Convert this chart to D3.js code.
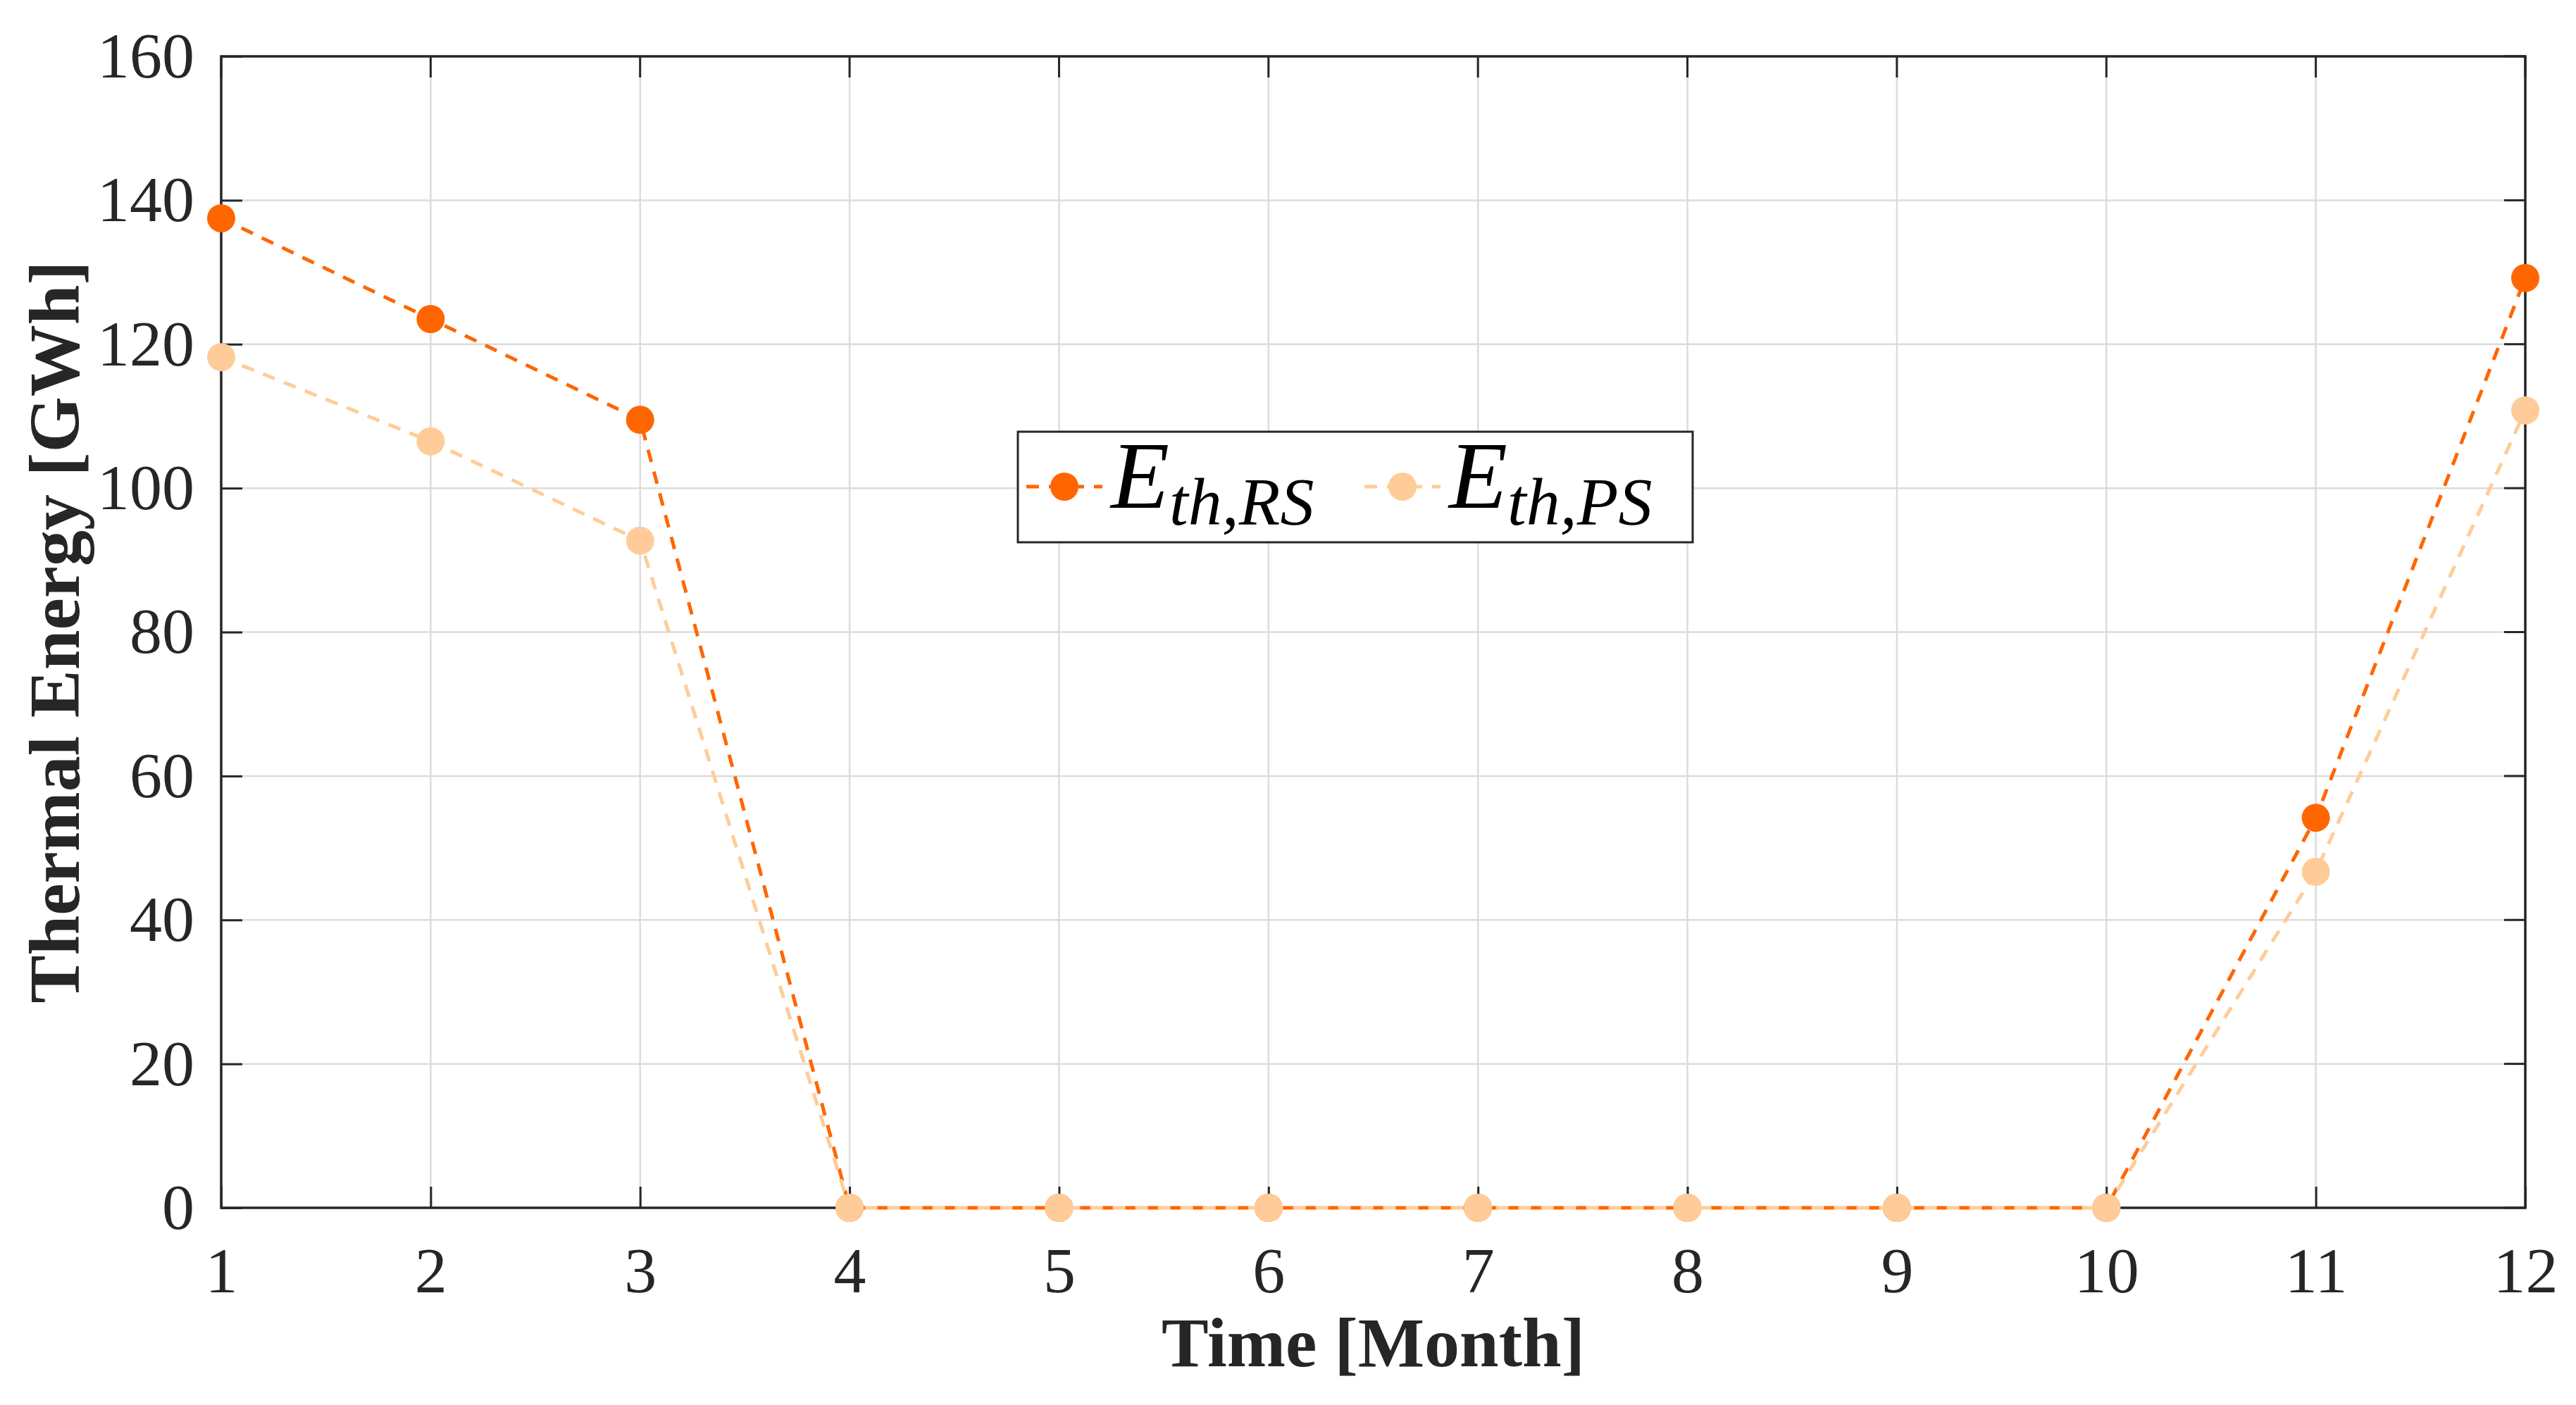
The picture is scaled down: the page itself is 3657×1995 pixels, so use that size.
<!DOCTYPE html>
<html><head><meta charset="utf-8">
<script src="https://cdn.jsdelivr.net/npm/d3@7"></script>
<style>body{margin:0;background:#fff}</style>
</head><body>
<svg id="chart" width="3657" height="1995"></svg>
<script>
// data
const months = [1,2,3,4,5,6,7,8,9,10,11,12];
const rsValues = [137.5,123.5,109.5,0,0,0,0,0,0,0,54.2,129.2];
const psValues = [118.2,106.5,92.7,0,0,0,0,0,0,0,46.7,110.8];
const yTicks = [0,20,40,60,80,100,120,140,160];

const svg = d3.select("#chart");
const m = {l:314, r:3585, t:80, b:1715};
const x = d3.scaleLinear().domain([1,12]).range([m.l,m.r]);
const y = d3.scaleLinear().domain([0,160]).range([m.b,m.t]);
const font = "'Liberation Serif','Times New Roman',serif";

// grid
svg.append("g").selectAll("line").data(months).join("line")
  .attr("x1",d=>x(d)).attr("x2",d=>x(d)).attr("y1",m.t).attr("y2",m.b)
  .attr("stroke","#dcdcdc").attr("stroke-width",2.5);
svg.append("g").selectAll("line").data(yTicks).join("line")
  .attr("y1",d=>y(d)).attr("y2",d=>y(d)).attr("x1",m.l).attr("x2",m.r)
  .attr("stroke","#dcdcdc").attr("stroke-width",2.5);

// axes
const xAxis = d3.axisBottom(x).tickValues(months).tickSize(-30).tickPadding(55);
const yAxis = d3.axisLeft(y).tickValues(yTicks).tickSize(-30).tickPadding(38);
[svg.append("g").attr("transform",`translate(0,${m.b})`).call(xAxis),
 svg.append("g").attr("transform",`translate(${m.l},0)`).call(yAxis)].forEach(g=>{
  g.select(".domain").remove();
  g.selectAll("line").attr("stroke","#262626").attr("stroke-width",3);
  g.selectAll("text").attr("font-family",font).attr("font-size",92).attr("fill","#262626");
});
// top/right ticks
svg.append("g").selectAll("line").data(months).join("line")
  .attr("x1",d=>x(d)).attr("x2",d=>x(d)).attr("y1",m.t).attr("y2",m.t+30)
  .attr("stroke","#262626").attr("stroke-width",3);
svg.append("g").selectAll("line").data(yTicks).join("line")
  .attr("y1",d=>y(d)).attr("y2",d=>y(d)).attr("x1",m.r).attr("x2",m.r-30)
  .attr("stroke","#262626").attr("stroke-width",3);
svg.append("rect").attr("x",m.l).attr("y",m.t).attr("width",m.r-m.l).attr("height",m.b-m.t)
  .attr("fill","none").attr("stroke","#262626").attr("stroke-width",3.5);

// labels
svg.append("text").attr("x",(m.l+m.r)/2).attr("y",1940).attr("text-anchor","middle")
  .attr("font-family",font).attr("font-weight","bold").attr("font-size",100).attr("fill","#262626")
  .text("Time [Month]");
svg.append("text").attr("transform",`translate(112,${(m.t+m.b)/2}) rotate(-90)`).attr("text-anchor","middle")
  .attr("font-family",font).attr("font-weight","bold").attr("font-size",102).attr("fill","#262626")
  .text("Thermal Energy [GWh]");

// series
const series = [
  {name:"RS", vals:rsValues, color:"#ff6600"},
  {name:"PS", vals:psValues, color:"#ffcc99"}
];
const line = d3.line().x((d,i)=>x(months[i])).y(d=>y(d));
series.forEach(s=>{
  svg.append("path").attr("d",line(s.vals)).attr("fill","none")
    .attr("stroke",s.color).attr("stroke-width",5).attr("stroke-dasharray","18,14");
  svg.append("g").selectAll("circle").data(s.vals).join("circle")
    .attr("cx",(d,i)=>x(months[i])).attr("cy",d=>y(d)).attr("r",20).attr("fill",s.color);
});

// legend
const lg = svg.append("g").attr("transform","translate(1445,613)");
lg.append("rect").attr("width",958).attr("height",157).attr("fill","#fff")
  .attr("stroke","#262626").attr("stroke-width",3);
series.forEach((s,i)=>{
  const ox = i*480;
  lg.append("line").attr("x1",ox+12).attr("x2",ox+120).attr("y1",78).attr("y2",78)
    .attr("stroke",s.color).attr("stroke-width",5).attr("stroke-dasharray","18,14");
  lg.append("circle").attr("cx",ox+66).attr("cy",78).attr("r",20).attr("fill",s.color);
  const t = lg.append("text").attr("x",ox+132).attr("y",108).attr("font-family",font)
    .attr("font-style","italic").attr("fill","#000");
  t.append("tspan").attr("font-size",136).text("E");
  t.append("tspan").attr("font-size",96).attr("dy",24).text("th,"+s.name);
});
</script>
</body></html>
